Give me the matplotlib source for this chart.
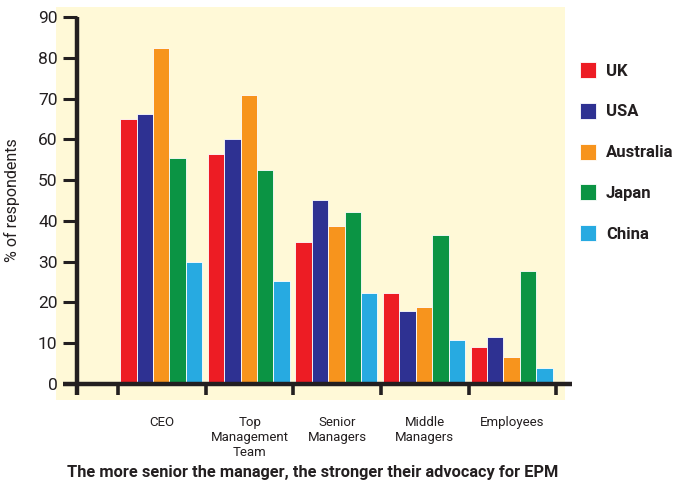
import matplotlib.pyplot as plt
import matplotlib.patches as mpatches
import numpy as np

# data
groups = ["CEO", "Top\nManagement\nTeam", "Senior\nManagers", "Middle\nManagers", "Employees"]
countries = ["UK", "USA", "Australia", "Japan", "China"]
uk = [65.1, 56.5, 34.9, 22.4, 9.1]
usa = [66.3, 60.2, 45.2, 17.9, 11.5]
australia = [82.3, 70.8, 38.8, 18.9, 6.6]
japan = [55.5, 52.6, 42.3, 36.6, 27.8]
china = [30.0, 25.3, 22.4, 10.8, 3.9]
yticks = [0, 10, 20, 30, 40, 50, 60, 70, 80, 90]

colors = ["#ed1c24", "#2e3192", "#f7941d", "#0b9444", "#27aae1"]
dark = "#231f20"
beige = "#fff9d7"
plt.rcParams['font.family'] = ['Roboto', 'DejaVu Sans']

W, H = 686, 484
fig = plt.figure(figsize=(W / 100, H / 100), dpi=100)

# beige panel behind the plot
fig.patches.append(mpatches.Rectangle((56 / W, 1 - 400 / H), (565 - 56) / W, (400 - 7) / H,
                                      transform=fig.transFigure, facecolor=beige,
                                      edgecolor="none", zorder=-1))

ax = fig.add_axes([77 / W, 1 - 384 / H, (572 - 77) / W, (384 - 17) / H])
ax.set_facecolor("none")
x = np.arange(len(groups))
step = 87.6
x0 = -85 / step
x1 = (572 - 162) / step
ax.set_xlim(x0, x1)
ax.set_ylim(0, 90)

bw = 16.4 / step
series = [uk, usa, australia, japan, china]
for k, (vals, c, name) in enumerate(zip(series, colors, countries)):
    ax.bar(x + (k - 2) * bw - 0.01, vals, width=bw, color=c, edgecolor="white",
           linewidth=0.6, label=name, zorder=2)

for s in ax.spines.values():
    s.set_visible(False)

# axis lines
ax.plot([x0 - 14 / step, x1], [0, 0], color=dark, lw=3.2, clip_on=False, zorder=3,
        solid_capstyle="butt")
ax.plot([x0, x0], [-11 / 4.07, 90], color=dark, lw=3.2, clip_on=False, zorder=3,
        solid_capstyle="butt")

ax.set_yticks(yticks)
ax.set_yticklabels([str(v) for v in yticks], fontsize=12.5, color=dark)
ax.tick_params(axis="y", direction="out", length=10, width=2.2, color=dark, pad=4)

# group separators below the axis
ax.set_xticks(np.arange(-0.5, len(groups), 1.0))
ax.set_xticklabels([])
ax.tick_params(axis="x", direction="out", length=8, width=2.6, color=dark)

for i, g in enumerate(groups):
    ax.text(i, -7.8, g, ha="center", va="top", fontsize=9.5, color=dark,
            linespacing=1.2)

ax.set_ylabel("% of respondents", fontsize=11.5, color=dark)
ax.yaxis.set_label_coords(-0.115, 0.5)

fig.text(313 / W, 1 - 472 / H, "The more senior the manager, the stronger their advocacy for EPM",
         ha="center", va="center", fontsize=11.8, fontweight="bold", color=dark)

fig.legend(loc="upper left", bbox_to_anchor=(565 / W, 1 - 47 / H), frameon=False,
           prop={"size": 12, "weight": "bold"}, handlelength=0.95, handleheight=1.1,
           handletextpad=0.6, labelspacing=1.45, labelcolor=dark)

fig.savefig("out.png", dpi=100)
